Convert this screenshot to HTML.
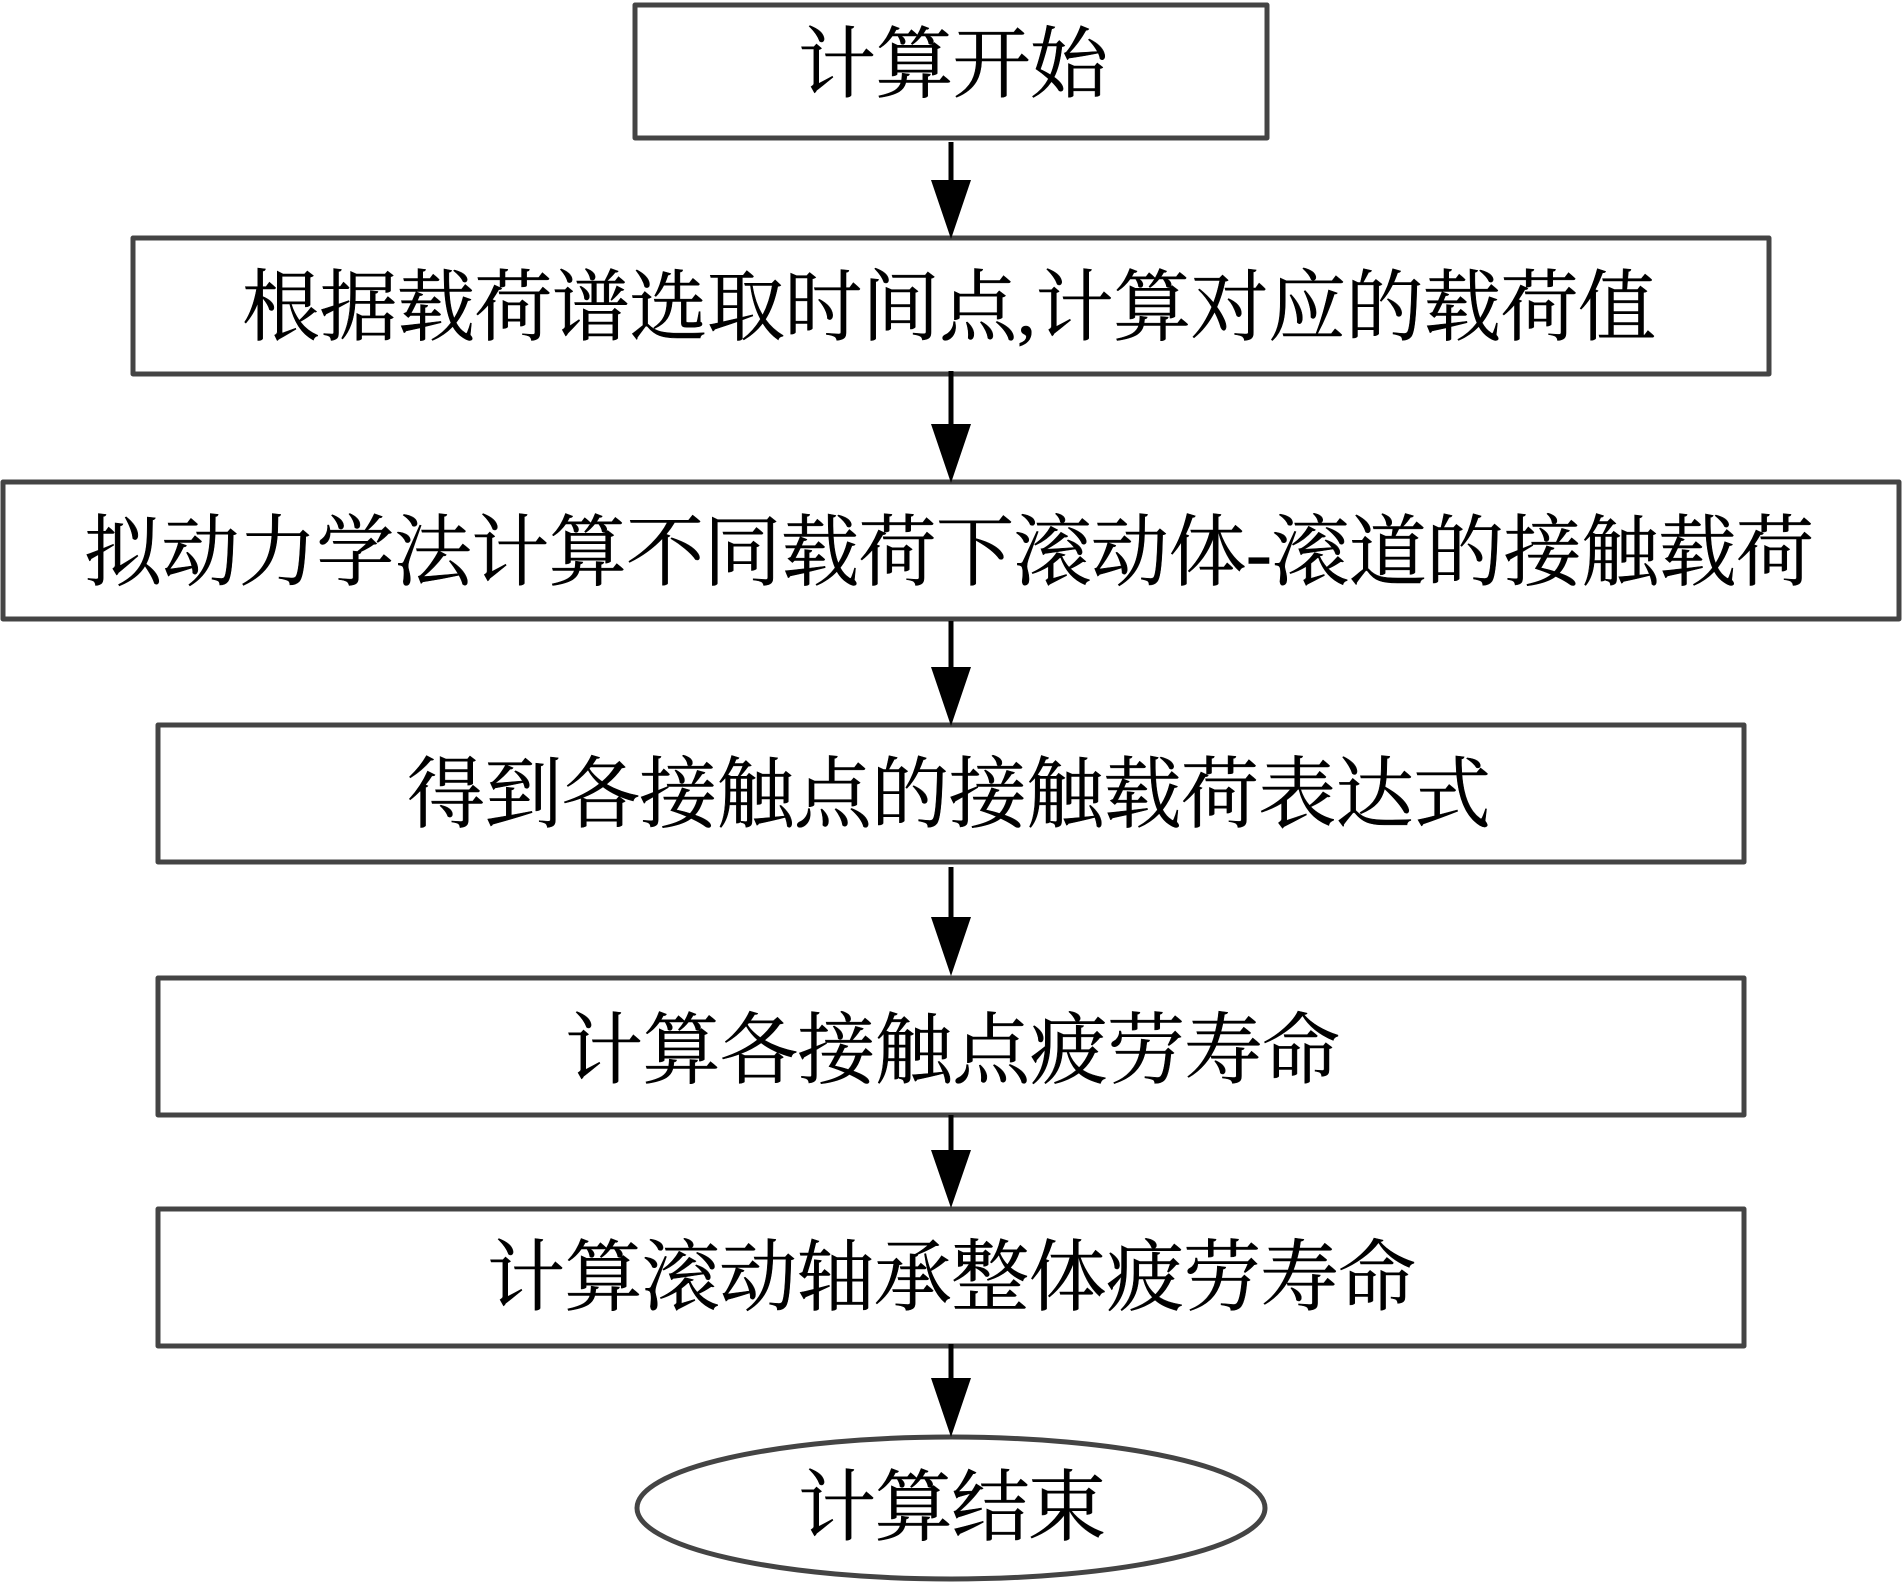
<!DOCTYPE html>
<html lang="zh-CN"><head><meta charset="utf-8"><style>
html,body{margin:0;padding:0;background:#fff}
svg{display:block}
text{font-family:"Liberation Serif","Noto Serif CJK SC",serif;font-size:78px;fill:#000;stroke:#000;stroke-width:.5px}
</style></head><body>
<svg xmlns="http://www.w3.org/2000/svg" width="1902" height="1585" viewBox="0 0 1902 1585">
<rect width="1902" height="1585" fill="#fff"/>
<g fill="#fff" stroke="#444" stroke-width="5" stroke-linejoin="round">
<rect x="635" y="5" width="632" height="133"/>
<rect x="133" y="238" width="1636" height="136"/>
<rect x="3" y="482" width="1896" height="137"/>
<rect x="158" y="725" width="1586" height="137"/>
<rect x="158" y="978" width="1586" height="137"/>
<rect x="158" y="1209" width="1586" height="137"/>
<ellipse cx="951" cy="1508" rx="314" ry="71"/>
</g>
<g stroke="#000" stroke-width="5">
<line x1="951" y1="142" x2="951" y2="185"/>
<line x1="951" y1="371" x2="951" y2="428"/>
<line x1="951" y1="621" x2="951" y2="670"/>
<line x1="951" y1="867" x2="951" y2="920"/>
<line x1="951" y1="1115" x2="951" y2="1153"/>
<line x1="951" y1="1344" x2="951" y2="1382"/>
</g>
<g fill="#000">
<polygon points="931,180 971,180 951,239"/>
<polygon points="931,424 971,424 951,483"/>
<polygon points="931,667 971,667 951,726"/>
<polygon points="931,917 971,917 951,976"/>
<polygon points="931,1150 971,1150 951,1208"/>
<polygon points="931,1378 971,1378 951,1437"/>
</g>
<text x="798" y="91" textLength="310">计算开始</text>
<text x="242" y="334" textLength="1414">根据载荷谱选取时间点,计算对应的载荷值</text>
<text x="84" y="579" textLength="1730">拟动力学法计算不同载荷下滚动体-滚道的接触载荷</text>
<text x="407" y="821" textLength="1084">得到各接触点的接触载荷表达式</text>
<text x="565" y="1077" textLength="775">计算各接触点疲劳寿命</text>
<text x="487" y="1304" textLength="929">计算滚动轴承整体疲劳寿命</text>
<text x="798" y="1534" textLength="308">计算结束</text>
</svg>
</body></html>
